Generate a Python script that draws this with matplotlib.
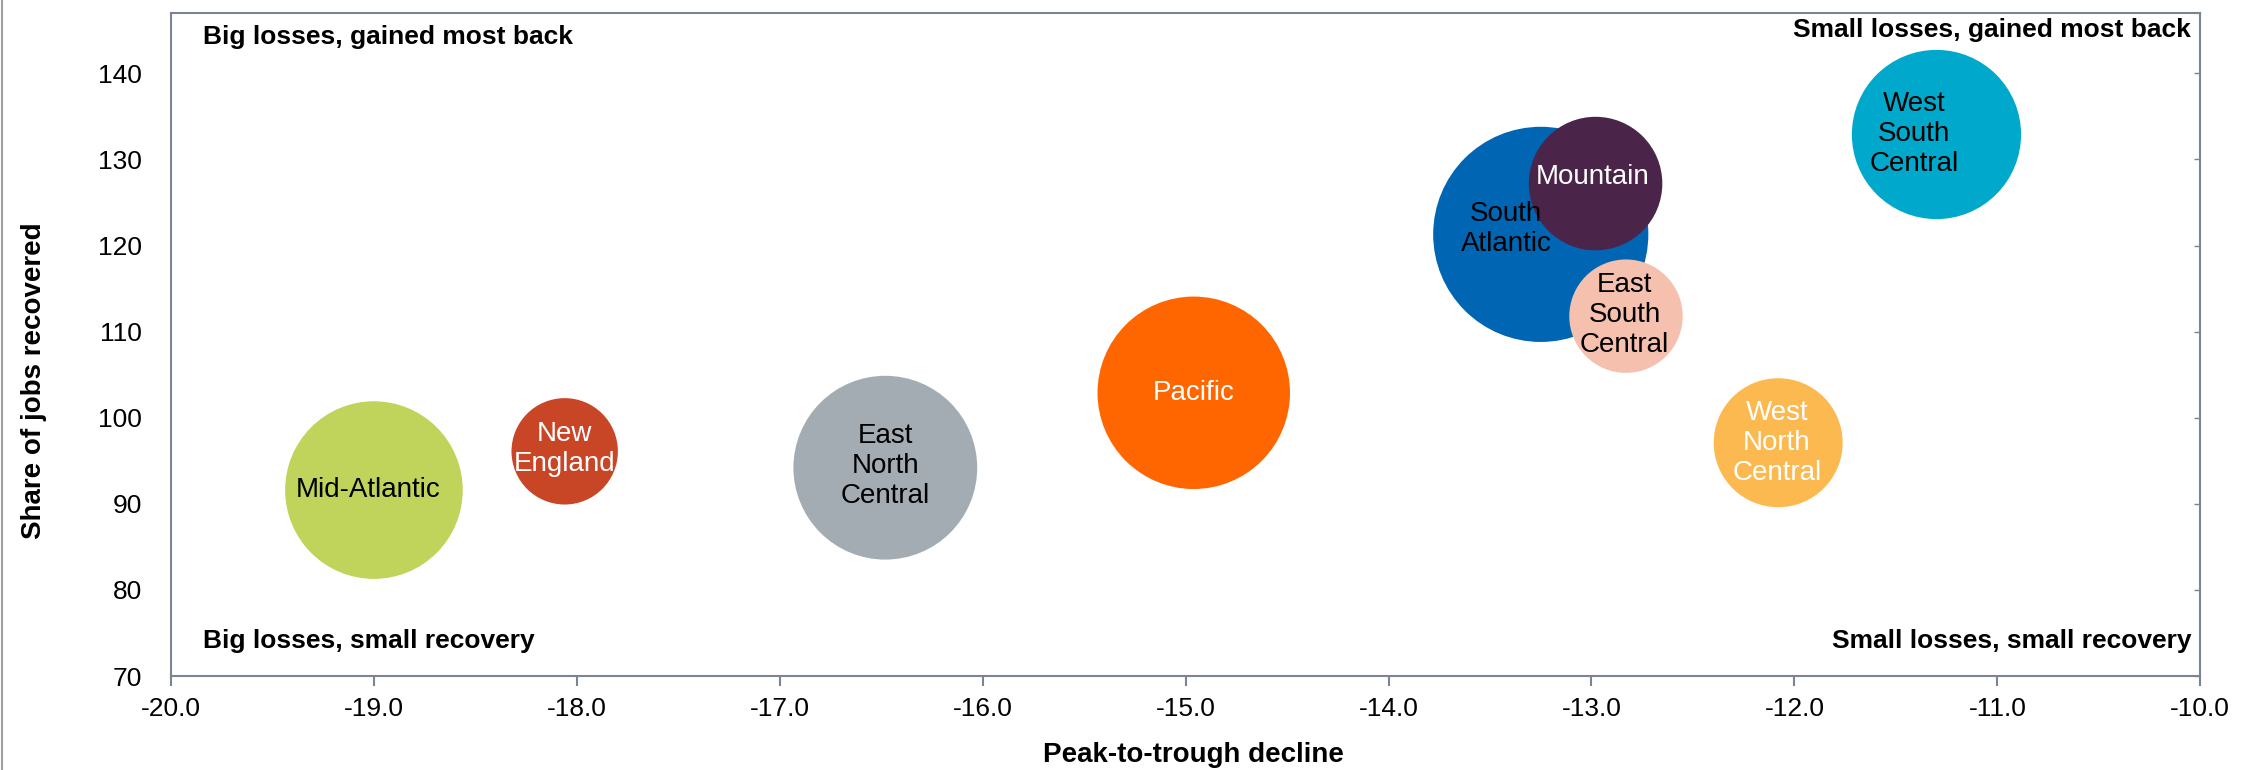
import numpy as np
import matplotlib.pyplot as plt
from matplotlib.lines import Line2D

plt.rcParams['font.family'] = ['Liberation Sans', 'DejaVu Sans']

regions = ['South Atlantic', 'Mid-Atlantic', 'New England', 'East North Central', 'Pacific',
           'West North Central', 'West South Central', 'Mountain', 'East South Central']
labels = ['South\nAtlantic', 'Mid-Atlantic', 'New\nEngland', 'East\nNorth\nCentral', 'Pacific',
          'West\nNorth\nCentral', 'West\nSouth\nCentral', 'Mountain', 'East\nSouth\nCentral']
decline = [-13.25, -19.0, -18.06, -16.48, -14.96, -12.08, -11.3, -12.98, -12.83]  # peak-to-trough
recovered = [121.3, 91.6, 96.1, 94.2, 102.9, 97.1, 132.9, 127.2, 111.8]  # share of jobs recovered
employment = [27.0, 18.4, 6.6, 19.7, 21.6, 9.7, 16.7, 10.4, 7.5]  # bubble size

colors = ['#0066b3', '#c0d35a', '#c84526', '#a3acb2', '#ff6600',
          '#fcb94f', '#00a9cb', '#4b2449', '#f6c0ae']
text_colors = ['black', 'black', 'white', 'black', 'white', 'white', 'black', 'white', 'black']
label_offsets = [(-25, 4), (-4, 0), (0, 2), (0, 1), (0, 0), (-1, 0), (-16, 0), (-2, 5), (-1, 1)]

fig = plt.figure(figsize=(22.59, 7.70), dpi=100)
ax = fig.add_axes([0.0757, 0.122, 0.8983, 0.861])

scale = 24000 / 27.0  # marker area per unit of employment
ax.scatter(decline, recovered, s=np.array(employment) * scale, c=colors, edgecolors='none', zorder=2)

for i in range(len(regions)):
    ax.annotate(labels[i], (decline[i], recovered[i]), xytext=label_offsets[i],
                textcoords='offset points', ha='center', va='center',
                color=text_colors[i], fontsize=20, linespacing=1.2, zorder=3)

ax.set_xlim(-20, -10)
ax.set_ylim(70, 147)
ax.set_xticks(np.arange(-20, -9.5, 1.0))
ax.set_xticklabels(['%.1f' % v for v in np.arange(-20, -9.5, 1.0)])
ax.set_yticks(np.arange(70, 141, 10))

spine_col = '#7a8594'
for sp in ax.spines.values():
    sp.set_color(spine_col)
    sp.set_linewidth(1.5)

ax.tick_params(axis='x', direction='out', length=7, width=1.5, color=spine_col,
               labelsize=19, pad=8)
ax.tick_params(axis='y', left=False, right=True, direction='in', length=4, width=1,
               color=spine_col, labelsize=19, pad=21)

ax.set_xlabel('Peak-to-trough decline', fontsize=20, fontweight='bold')
ax.xaxis.set_label_coords(0.504, -0.099)
ax.set_ylabel('Share of jobs recovered', fontsize=20, fontweight='bold')
ax.yaxis.set_label_coords(-0.061, 0.446)

qkw = dict(transform=ax.transAxes, fontsize=19, fontweight='bold', va='center')
ax.text(0.016, 0.964, 'Big losses, gained most back', ha='left', **qkw)
ax.text(0.9956, 0.975, 'Small losses, gained most back', ha='right', **qkw)
ax.text(0.016, 0.053, 'Big losses, small recovery', ha='left', **qkw)
ax.text(0.9956, 0.053, 'Small losses, small recovery', ha='right', **qkw)

fig.add_artist(Line2D([0.0008, 0.0008], [0, 1], transform=fig.transFigure, color='#a0a0a0', lw=1.5))

fig.savefig('out.png', dpi=100)
